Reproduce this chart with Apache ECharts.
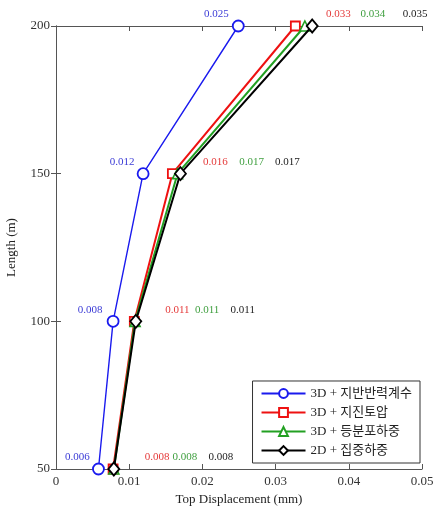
<!DOCTYPE html>
<html>
<head>
<meta charset="utf-8">
<script src="https://cdn.jsdelivr.net/npm/echarts@6/dist/echarts.min.js"></script>
<style>
html, body { margin: 0; padding: 0; background: #fff; }
#Chart { width: 436px; height: 510px; }
</style>
</head>
<body>
<div id="Chart"></div>
<script>
// 데이터
var lengths = [50, 100, 150, 200];
var xTicks = [0, 0.01, 0.02, 0.03, 0.04, 0.05];
var names = ["3D + 지반반력계수", "3D + 지진토압", "3D + 등분포하중", "2D + 집중하중"];
var blueVals = [0.0058, 0.0078, 0.0119, 0.0249];
var redVals = [0.0078, 0.0107, 0.0159, 0.0327];
var greenVals = [0.0079, 0.0108, 0.0166, 0.0340];
var blackVals = [0.0079, 0.0109, 0.0170, 0.0350];
var blueText = ["0.006", "0.008", "0.012", "0.025"];
var redText = ["0.008", "0.011", "0.016", "0.033"];
var greenText = ["0.008", "0.011", "0.017", "0.034"];
var blackText = ["0.008", "0.011", "0.017", "0.035"];

// 라벨 위치 (px)
var blueOff = [[-21, -12], [-23, -11], [-21, -12], [-22, -12]];
var redOff = [[44, -12], [43, -11], [43, -12], [43, -12]];
var greenOff = [[71, -12], [72, -11], [74, -12], [68, -12]];
var blackOff = [[107, -12], [107, -11], [107, -12], [103, -12]];

var serif = "Liberation Serif";

function makeData(vals, texts, offs, color) {
    var out = [];
    for (var i = 0; i < vals.length; i++) {
        out.push({
            value: [vals[i], lengths[i]],
            label: {
                show: true,
                formatter: texts[i],
                offset: offs[i],
                position: 'inside',
                color: color,
                fontFamily: serif,
                fontSize: 11
            }
        });
    }
    return out;
}

var myChart = echarts.init(document.getElementById("Chart"));
var option = {
    animation: false,
    backgroundColor: '#fff',
    grid: {
        left: 56,
        right: 14,
        top: 26,
        bottom: 41,
        outerBoundsMode: 'none'
    },
    legend: {
        orient: 'vertical',
        right: 16,
        bottom: 47,
        padding: [6, 8, 6, 8],
        itemGap: 6,
        itemWidth: 44,
        itemHeight: 11,
        borderColor: '#333',
        borderWidth: 1,
        backgroundColor: '#fff',
        textStyle: { fontFamily: serif + ", Noto Sans CJK KR", fontSize: 13, color: '#222' },
        data: names
    },
    xAxis: [{
        type: 'value',
        min: 0,
        max: 0.05,
        interval: 0.01,
        name: "Top Displacement (mm)",
        nameLocation: 'middle',
        nameGap: 24,
        nameTextStyle: { fontFamily: serif, fontSize: 13, color: '#222' },
        axisLine: { lineStyle: { color: '#555' } },
        axisTick: { inside: true, length: 5, lineStyle: { color: '#555' } },
        axisLabel: {
            fontFamily: serif, fontSize: 13, color: '#333', margin: 6,
            formatter: function (v) { return xTicks.indexOf(+v.toFixed(2)) >= 0 ? String(+v.toFixed(2)) : ''; }
        },
        splitLine: { show: false }
    }, {
        type: 'value',
        position: 'top',
        min: 0,
        max: 0.05,
        interval: 0.01,
        axisLine: { lineStyle: { color: '#555' } },
        axisTick: { inside: true, length: 5, lineStyle: { color: '#555' } },
        axisLabel: { show: false },
        splitLine: { show: false }
    }],
    yAxis: [{
        type: 'value',
        min: 50,
        max: 200,
        interval: 50,
        name: "Length (m)",
        nameLocation: 'middle',
        nameGap: 38,
        nameTextStyle: { fontFamily: serif, fontSize: 13, color: '#222' },
        axisLine: { show: true, lineStyle: { color: '#555' } },
        axisTick: { show: true, inside: true, length: 5, lineStyle: { color: '#555' } },
        axisLabel: { fontFamily: serif, fontSize: 13, color: '#333', margin: 6 },
        splitLine: { show: false }
    }, {
        type: 'value',
        position: 'right',
        min: 50,
        max: 200,
        interval: 50,
        axisLine: { show: true, lineStyle: { color: '#555' } },
        axisTick: { show: true, inside: true, length: 5, lineStyle: { color: '#555' } },
        axisLabel: { show: false },
        splitLine: { show: false }
    }],
    series: [
        {
            name: names[0],
            type: 'line',
            z: 2,
            data: makeData(blueVals, blueText, blueOff, '#3b3bd6'),
            symbol: 'circle',
            symbolSize: 11,
            lineStyle: { color: '#1a1aee', width: 1.4 },
            itemStyle: { color: '#fff', borderColor: '#1a1aee', borderWidth: 1.8 }
        },
        {
            name: names[1],
            type: 'line',
            z: 3,
            data: makeData(redVals, redText, redOff, '#e53a3a'),
            symbol: 'rect',
            symbolSize: 9,
            lineStyle: { color: '#ee1111', width: 2 },
            itemStyle: { color: '#fff', borderColor: '#ee1111', borderWidth: 1.8 }
        },
        {
            name: names[2],
            type: 'line',
            z: 4,
            data: makeData(greenVals, greenText, greenOff, '#3f9f3f'),
            symbol: 'triangle',
            symbolSize: 10,
            lineStyle: { color: '#22a022', width: 2 },
            itemStyle: { color: '#fff', borderColor: '#22a022', borderWidth: 1.6 }
        },
        {
            name: names[3],
            type: 'line',
            z: 5,
            data: makeData(blackVals, blackText, blackOff, '#222'),
            symbol: 'diamond',
            symbolSize: [11, 13],
            lineStyle: { color: '#000', width: 2 },
            itemStyle: { color: '#fff', borderColor: '#000', borderWidth: 1.8 }
        }
    ]
};
myChart.setOption(option);
window.addEventListener("resize", function () {
    myChart.resize();
});
</script>
</body>
</html>
